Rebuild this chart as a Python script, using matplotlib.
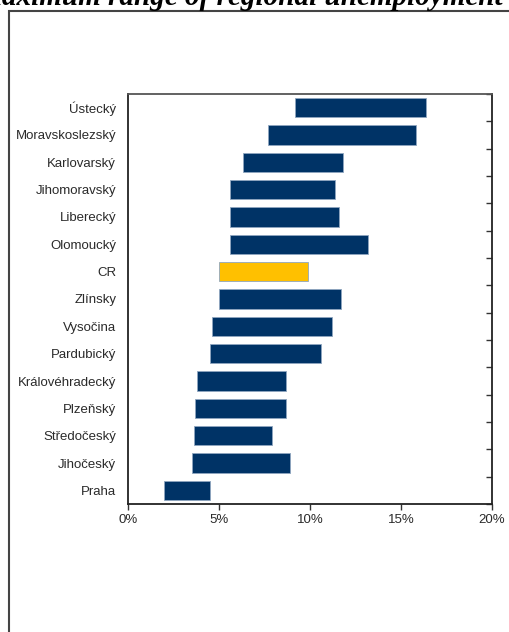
import numpy as np
import matplotlib
matplotlib.use("Agg")
import matplotlib.pyplot as plt
from matplotlib.patches import Rectangle
from matplotlib.ticker import FuncFormatter

# regional unemployment range (min, max), bottom to top
regions = ["Praha", "Jihočeský", "Středočeský", "Plzeňský", "Královéhradecký",
           "Pardubický", "Vysočina", "Zlínsky", "CR", "Olomoucký", "Liberecký",
           "Jihomoravský", "Karlovarský", "Moravskoslezský", "Ústecký"]
low = [2.0, 3.5, 3.6, 3.7, 3.8, 4.5, 4.6, 5.0, 5.0, 5.6, 5.6, 5.6, 6.3, 7.7, 9.2]
high = [4.5, 8.9, 7.9, 8.7, 8.7, 10.6, 11.2, 11.7, 9.9, 13.2, 11.6, 11.4, 11.8, 15.8, 16.4]
xticks = [0, 5, 10, 15, 20]

navy = "#003366"
gold = "#FFC000"

fig = plt.figure(figsize=(5.09, 6.32), dpi=100)
ax = fig.add_axes([0.2515, 0.2025, 0.715, 0.6488])

y = np.arange(len(regions))
width = np.array(high) - np.array(low)
colors = [gold if r == "CR" else navy for r in regions]
ax.barh(y, width, left=low, height=0.7, color=colors,
        edgecolor="#8fa6c0", linewidth=0.6)

ax.set_xlim(0, 20)
ax.set_ylim(-0.5, len(regions) - 0.5)
ax.set_xticks(xticks)
ax.xaxis.set_major_formatter(FuncFormatter(lambda v, p: f"{v:.0f}%"))
ax.set_yticks(y)
ax.set_yticklabels(regions)
ax.set_yticks(np.arange(-0.5, len(regions)), minor=True)

ax.tick_params(axis="y", which="major", length=0, pad=8.5, labelsize=9.5,
               labelcolor="#2a2a2a")
ax.tick_params(axis="y", which="minor", left=False, right=True,
               direction="in", length=4, width=1, color="#333333")
ax.tick_params(axis="x", which="major", direction="out", length=4, width=1,
               pad=3, labelsize=9.5, labelcolor="#2a2a2a", color="#333333")

for side in ["left", "bottom", "right"]:
    ax.spines[side].set_color("#222222")
    ax.spines[side].set_linewidth(1.3)
ax.spines["top"].set_color("#555555")
ax.spines["top"].set_linewidth(1.3)

for lbl in ax.get_xticklabels() + ax.get_yticklabels():
    lbl.set_fontfamily("Liberation Sans")

# outer frame running off the page
fig.patches.append(Rectangle((9 / 509, -0.1), 1.2, 1 - 10.5 / 632 + 0.1,
                             transform=fig.transFigure, fill=False,
                             edgecolor="#444444", linewidth=1.5))

fig.text(503 / 509, 1 - 5 / 632, "Maximum range of regional unemployment",
         ha="right", va="baseline", fontsize=21, fontweight="bold",
         fontstyle="italic", family="Liberation Serif")

fig.savefig("out.png", dpi=100)
